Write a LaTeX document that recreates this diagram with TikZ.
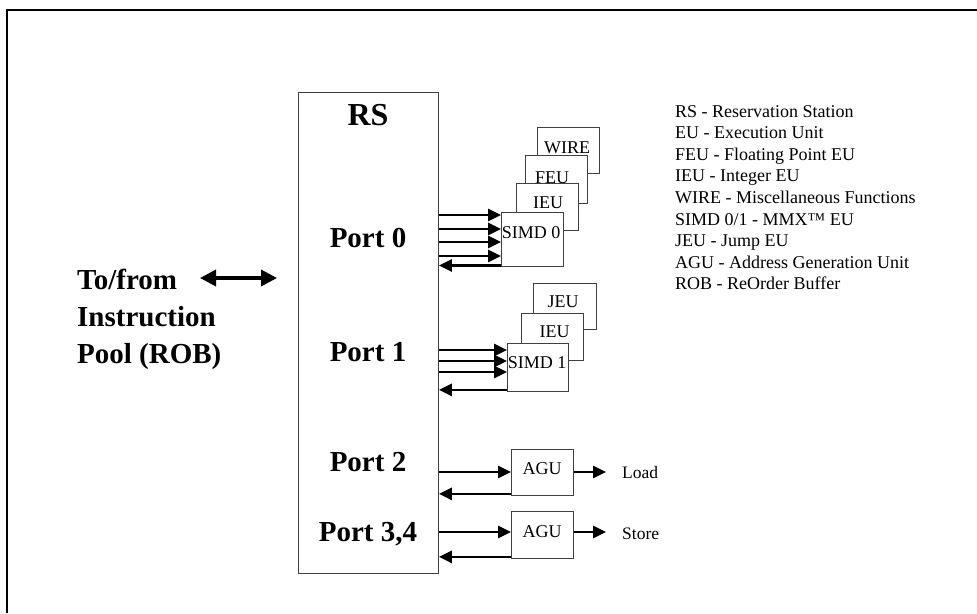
\documentclass[tikz,border=0pt]{standalone}
\usepackage{fontspec}
\setmainfont{Liberation Serif}
\usetikzlibrary{arrows.meta,calc}
\begin{document}
\begin{tikzpicture}[x=1pt,y=-1pt,
  box/.style={draw=black!75, line width=0.9pt, fill=white, inner sep=0pt, anchor=north west},
  lbl/.style={font=\fontsize{18}{21}\selectfont, inner sep=0pt, anchor=base},
  txt/.style={font=\fontsize{17.5}{21}\selectfont, inner sep=0pt, anchor=base west},
  big/.style={font=\fontsize{29}{34}\selectfont\bfseries, inner sep=0pt, anchor=base},
  arr/.style={line width=2.8pt, -{Triangle[length=13pt,width=12pt]}},
  darr/.style={line width=3.5pt, {Triangle[length=16pt,width=16pt]}-{Triangle[length=16pt,width=16pt]}},
]
\useasboundingbox (0,0) rectangle (977,613);
\draw[line width=2pt] (7,613) -- (7,10) -- (977,10);

% RS
\node[box,minimum width=140,minimum height=481] (rs) at (298,92) {};
\node[big,font=\fontsize{32}{36}\selectfont\bfseries] (rst) at (368,125) {RS};
\node[big] (p0) at (368,247) {Port 0};
\node[big] (p1) at (368,361) {Port 1};
\node[big] (p2) at (368,471) {Port 2};
\node[big] (p34) at (368,541) {Port 3,4};

% left text
\node[big,anchor=base west] (tf) at (77,289) {To/from};
\node[big,anchor=base west] (ins) at (77,326) {Instruction};
\node[big,anchor=base west] (pool) at (77,363) {Pool (ROB)};
\coordinate (dA) at (200,278);
\coordinate (dB) at (277,278);
\draw[darr] (dA) -- (dB);

% port 0 stack
\node[box,minimum width=62,minimum height=46] (wire) at (537,127) {};
\node[lbl] (wiret) at (567,153) {WIRE};
\node[box,minimum width=62,minimum height=48] (feu) at (525,155) {};
\node[lbl] (feut) at (552,183) {FEU};
\node[box,minimum width=62,minimum height=47] (ieu0) at (516,183) {};
\node[lbl] (ieu0t) at (548,208) {IEU};
\node[box,minimum width=62,minimum height=54] (simd0) at (501,212) {};
\node[lbl] (simd0t) at (531,238) {SIMD 0};

% port 1 stack
\node[box,minimum width=63,minimum height=46] (jeu) at (533,283) {};
\node[lbl] (jeut) at (563,307) {JEU};
\node[box,minimum width=62,minimum height=47] (ieu1) at (521,313) {};
\node[lbl] (ieu1t) at (554.5,337) {IEU};
\node[box,minimum width=61,minimum height=48] (simd1) at (507,343) {};
\node[lbl] (simd1t) at (537,368) {SIMD 1};

% AGUs
\node[box,minimum width=62,minimum height=46] (agu1) at (511,449) {};
\node[lbl] (agu1t) at (542,474) {AGU};
\node[box,minimum width=62,minimum height=47] (agu2) at (511,511) {};
\node[lbl] (agu2t) at (542,537) {AGU};
\node[txt] (load) at (622,478) {Load};
\node[txt] (store) at (622,539) {Store};

% arrows port 0
\foreach \d [count=\i] in {3,17,30,44} {
  \coordinate (s0in\i) at ([yshift=-\d pt]simd0.north west);
  \draw[arr] (s0in\i -| rs.east) -- (s0in\i);
}
\coordinate (s0back) at ([yshift=1.4pt]simd0.south west);
\draw[arr] (s0back) -- (s0back -| rs.east);

% arrows port 1
\foreach \d [count=\i] in {7,18,29} {
  \coordinate (s1in\i) at ([yshift=-\d pt]simd1.north west);
  \draw[arr] (s1in\i -| rs.east) -- (s1in\i);
}
\coordinate (s1back) at ([yshift=2pt]simd1.south west);
\draw[arr] (s1back) -- (s1back -| rs.east);

% arrows port 2
\coordinate (a1in) at ([yshift=-23pt]agu1.north west);
\draw[arr] (a1in -| rs.east) -- (a1in);
\coordinate (a1back) at ([yshift=2pt]agu1.south west);
\draw[arr] (a1back) -- (a1back -| rs.east);
\coordinate (a1out) at (a1in -| agu1.east);
\coordinate (la) at (606,472);
\draw[arr] (a1out) -- (la);

% arrows port 3,4
\coordinate (a2in) at ([yshift=-21pt]agu2.north west);
\draw[arr] (a2in -| rs.east) -- (a2in);
\coordinate (a2back) at ([yshift=2pt]agu2.south west);
\draw[arr] (a2back) -- (a2back -| rs.east);
\coordinate (a2out) at (a2in -| agu2.east);
\coordinate (sa) at (606,532);
\draw[arr] (a2out) -- (sa);

% legend
\foreach \t [count=\i] in {RS - Reservation Station, EU - Execution Unit, FEU - Floating Point EU, IEU - Integer EU, WIRE - Miscellaneous Functions, SIMD 0/1 - MMX™ EU, JEU - Jump EU, AGU - Address Generation Unit, ROB - ReOrder Buffer} {
  \node[txt,font=\fontsize{18}{21}\selectfont] (leg\i) at (675,{117+21.6*(\i-1)}) {\t};
}
\end{tikzpicture}
\end{document}
